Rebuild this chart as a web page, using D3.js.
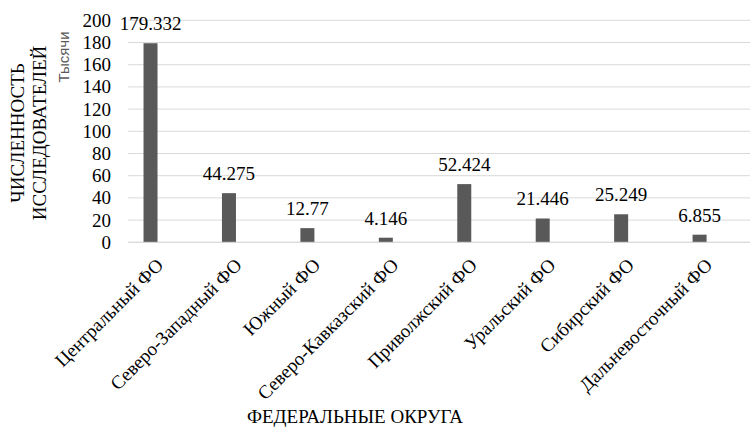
<!DOCTYPE html>
<html><head><meta charset="utf-8"><script src="https://cdn.jsdelivr.net/npm/d3@7"></script></head>
<body style="margin:0;background:#fff">
<svg id="chart" width="750" height="429"></svg>
<script>
// Численность исследователей по федеральным округам, тыс. человек
const districts = [
  "Центральный ФО", "Северо-Западный ФО", "Южный ФО", "Северо-Кавказский ФО",
  "Приволжский ФО", "Уральский ФО", "Сибирский ФО", "Дальневосточный ФО"
];
const researchers = [179.332, 44.275, 12.77, 4.146, 52.424, 21.446, 25.249, 6.855];
const valueLabels = ["179.332", "44.275", "12.77", "4.146", "52.424", "21.446", "25.249", "6.855"];
const yTicks = [0, 20, 40, 60, 80, 100, 120, 140, 160, 180, 200];

const SERIF = '"Liberation Serif", "Noto Serif CJK SC", serif';
const svg = d3.select("#chart").style("font-family", SERIF).style("font-size", "19px");
const W = 750;

function serif(sel) {
  return sel.style("font-family", SERIF).style("font-size", "19px").style("fill", "#000");
}

const x = d3.scaleBand().domain(districts).range([111.3, 738.8]).paddingInner(0).paddingOuter(0);
const y = d3.scaleLinear().domain([0, 200]).range([242.3, 20.3]);
const barW = 14;
const gridLeft = 128;

// horizontal gridlines
svg.append("g").selectAll("line").data(yTicks).join("line")
  .attr("x1", gridLeft).attr("x2", W)
  .attr("y1", d => y(d)).attr("y2", d => y(d))
  .attr("stroke", "#d9d9d9").attr("stroke-width", 1);

// value axis labels
svg.append("g").selectAll("text").data(yTicks).join("text")
  .call(serif)
  .attr("x", 111).attr("y", d => y(d))
  .attr("dy", "0.34em")
  .attr("text-anchor", "end")
  .text(d => d3.format("d")(d));

// bars
svg.append("g").selectAll("rect").data(researchers).join("rect")
  .attr("x", (d, i) => x(districts[i]) + x.bandwidth() / 2 - barW / 2)
  .attr("width", barW)
  .attr("y", d => y(d))
  .attr("height", d => y(0) - y(d))
  .attr("fill", "#595959");

// value labels above bars
svg.append("g").selectAll("text").data(researchers).join("text")
  .call(serif)
  .attr("x", (d, i) => x(districts[i]) + x.bandwidth() / 2)
  .attr("y", d => y(d) - 13)
  .attr("text-anchor", "middle")
  .text((d, i) => valueLabels[i]);

// category axis line
svg.append("line")
  .attr("x1", gridLeft).attr("x2", W)
  .attr("y1", y(0)).attr("y2", y(0))
  .attr("stroke", "#d9d9d9").attr("stroke-width", 1);

// rotated category labels
svg.append("g").selectAll("text").data(districts).join("text")
  .call(serif)
  .attr("transform", d => `translate(${x(d) + x.bandwidth() / 2 + 14},${y(0) + 24}) rotate(-45)`)
  .attr("text-anchor", "end")
  .text(d => d);

// axis titles
svg.append("text").call(serif)
  .attr("transform", "translate(24,133) rotate(-90)")
  .attr("text-anchor", "middle")
  .text("ЧИСЛЕННОСТЬ");
svg.append("text").call(serif)
  .attr("transform", "translate(46,133) rotate(-90)")
  .attr("text-anchor", "middle")
  .text("ИССЛЕДОВАТЕЛЕЙ");
svg.append("text")
  .style("font-family", '"Liberation Sans", Arial, sans-serif')
  .style("font-size", "15px").style("fill", "#595959")
  .attr("transform", "translate(69,57) rotate(-90)")
  .attr("text-anchor", "middle")
  .text("Тысячи");
svg.append("text").call(serif)
  .attr("x", 355).attr("y", 423)
  .attr("text-anchor", "middle")
  .text("ФЕДЕРАЛЬНЫЕ ОКРУГА");
</script>
</body></html>
